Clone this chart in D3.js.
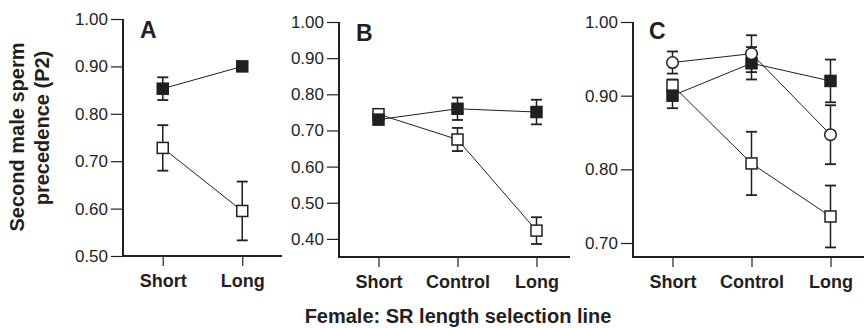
<!DOCTYPE html>
<html><head><meta charset="utf-8">
<script src="https://cdn.jsdelivr.net/npm/d3@7"></script>
<style>
body{margin:0;background:#fff;}
svg{display:block;font-family:"Liberation Sans",Arial,Helvetica,sans-serif;}
</style></head>
<body><svg id="c" width="864" height="328"></svg>
<script>
// ---- data ----
const catsA = ["Short", "Long"];
const catsBC = ["Short", "Control", "Long"];
const ticksA = [0.50, 0.60, 0.70, 0.80, 0.90, 1.00];
const ticksB = [0.40, 0.50, 0.60, 0.70, 0.80, 0.90, 1.00];
const ticksC = [0.70, 0.80, 0.90, 1.00];
// Panel A
const aFilled = [0.853, 0.900];
const aFilledSE = [0.024, 0];
const aOpen = [0.728, 0.595];
const aOpenSE = [0.048, 0.062];
// Panel B
const bFilled = [0.730, 0.760, 0.751];
const bFilledSE = [0, 0.031, 0.034];
const bOpen = [0.745, 0.675, 0.423];
const bOpenSE = [0, 0.032, 0.037];
// Panel C
const cCircle = [0.945, 0.957, 0.847];
const cCircleSE = [0.015, 0.025, 0.040];
const cFilled = [0.900, 0.944, 0.920];
const cFilledSE = [0.017, 0.022, 0.029];
const cOpen = [0.914, 0.808, 0.736];
const cOpenSE = [0.008, 0.043, 0.042];

const ink = "#231f20";
const svg = d3.select("#c");

const panels = [
  {label:"A", cats:catsA, ticks:ticksA, domain:[0.50,1.00], x0:123, x1:282, yTop:19, yBot:256, axisEnd:282, lx:17, ly:38,
   series:[{v:aOpen,se:aOpenSE,m:"open"},{v:aFilled,se:aFilledSE,m:"filled"}]},
  {label:"B", cats:catsBC, ticks:ticksB, domain:[0.35,1.00], x0:339, x1:576, yTop:22, yBot:257, axisEnd:570, lx:17, ly:41,
   series:[{v:bOpen,se:bOpenSE,m:"open"},{v:bFilled,se:bFilledSE,m:"filled"}]},
  {label:"C", cats:catsBC, ticks:ticksC, domain:[0.681,1.00], x0:633, x1:870, yTop:22, yBot:257, axisEnd:864, lx:16, ly:39,
   series:[{v:cOpen,se:cOpenSE,m:"open"},{v:cFilled,se:cFilledSE,m:"filled"},{v:cCircle,se:cCircleSE,m:"circle"}]}
];

panels.forEach(p => {
  const x = d3.scalePoint().domain(p.cats).range([p.x0, p.x1]).padding(0.5);
  const y = d3.scaleLinear().domain(p.domain).range([p.yBot, p.yTop]);
  const g = svg.append("g");

  // y axis
  const ya = g.append("g").attr("transform", `translate(${p.x0},0)`)
    .call(d3.axisLeft(y).tickValues(p.ticks).tickFormat(d3.format(".2f")).tickSize(12).tickSizeOuter(0).tickPadding(3));
  ya.select(".domain").remove();
  ya.selectAll(".tick line").attr("stroke", ink).attr("stroke-width", 1.2);
  ya.selectAll(".tick text").attr("fill", ink).attr("font-size", 17).attr("font-family", "Liberation Sans, Arial, sans-serif");

  // x axis
  const xa = g.append("g").attr("transform", `translate(0,${p.yBot})`)
    .call(d3.axisBottom(x).tickSize(10).tickSizeOuter(0).tickPadding(8));
  xa.select(".domain").remove();
  xa.selectAll(".tick line").attr("stroke", ink).attr("stroke-width", 1.2);
  xa.selectAll(".tick text").attr("fill", ink).attr("font-size", 18).attr("font-weight", "bold").attr("font-family", "Liberation Sans, Arial, sans-serif");

  // axis lines
  g.append("path").attr("d", `M${p.x0},${y(p.domain[1])}V${p.yBot}H${p.axisEnd}`)
    .attr("fill", "none").attr("stroke", ink).attr("stroke-width", 2);

  // panel letter
  g.append("text").attr("x", p.x0 + p.lx).attr("y", p.ly).text(p.label)
    .attr("font-size", 23).attr("font-weight", "bold").attr("fill", ink);

  // lines first
  p.series.forEach(s => {
    const line = d3.line().x((d,i) => x(p.cats[i])).y(d => y(d));
    g.append("path").datum(s.v).attr("d", line).attr("fill", "none").attr("stroke", ink).attr("stroke-width", 1);
  });
  // error bars
  p.series.forEach(s => {
    s.v.forEach((v,i) => {
      if (!s.se[i]) return;
      const cx = x(p.cats[i]);
      const lo = y(v - s.se[i]), hi = y(v + s.se[i]);
      g.append("line").attr("x1", cx).attr("x2", cx).attr("y1", lo).attr("y2", hi).attr("stroke", ink).attr("stroke-width", 1.5);
      [lo, hi].forEach(yy => g.append("line").attr("x1", cx-5.5).attr("x2", cx+5.5).attr("y1", yy).attr("y2", yy).attr("stroke", ink).attr("stroke-width", 1.8));
    });
  });
  // markers
  p.series.forEach(s => {
    s.v.forEach((v,i) => {
      const cx = x(p.cats[i]), cy = y(v);
      if (s.m === "circle") {
        g.append("circle").attr("cx", cx).attr("cy", cy).attr("r", 5.8).attr("fill", "#fff").attr("stroke", ink).attr("stroke-width", 1.5);
      } else {
        g.append("rect").attr("x", cx-5.5).attr("y", cy-5.5).attr("width", 11).attr("height", 11)
          .attr("fill", s.m === "filled" ? ink : "#fff").attr("stroke", ink).attr("stroke-width", 1.5);
      }
    });
  });
});

// axis titles
svg.append("text").attr("x", 458).attr("y", 323).attr("text-anchor", "middle")
  .attr("font-size", 20).attr("font-weight", "bold").attr("fill", ink).text("Female: SR length selection line");
const yt = svg.append("text").attr("transform", "rotate(-90)").attr("text-anchor", "middle")
  .attr("font-size", 20).attr("font-weight", "bold").attr("fill", ink);
yt.append("tspan").attr("x", -137).attr("y", 24).text("Second male sperm");
yt.append("tspan").attr("x", -128).attr("y", 49).text("precedence (P2)");
</script></body></html>
